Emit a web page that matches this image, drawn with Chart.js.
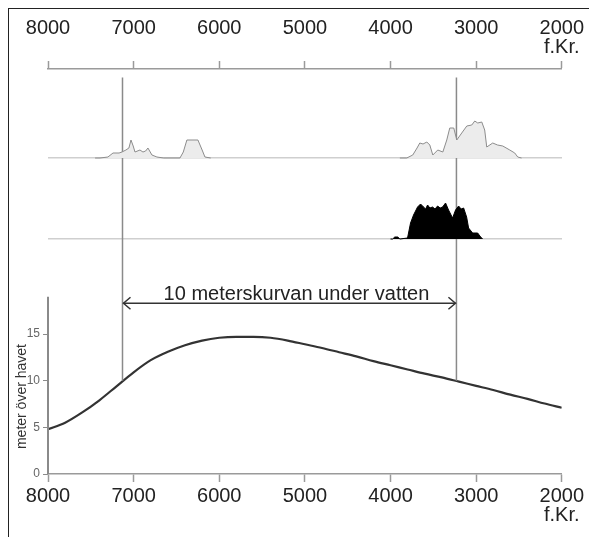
<!DOCTYPE html>
<html>
<head>
<meta charset="utf-8">
<script src="https://cdn.jsdelivr.net/npm/chart.js@4.4.1/dist/chart.umd.min.js"></script>
<style>
  body { margin: 0; background: #fff; }
  #wrap { position: relative; width: 589px; height: 537px; overflow: hidden; }
  #frame { position: absolute; left: 8px; top: 8px; width: 700px; height: 700px;
           border-left: 1.5px solid #222; border-top: 1.5px solid #222; pointer-events: none; }
</style>
</head>
<body>
<div id="wrap">
  <canvas id="c" width="589" height="537"></canvas>
  <div id="frame"></div>
</div>
<script>
// x axis (years before Christ)
var tickYears = [8000, 7000, 6000, 5000, 4000, 3000, 2000];
var unitLabel = "f.Kr.";

// sea level curve, meter over havet
var seaYears = [8000, 7800, 7600, 7400, 7200, 7000, 6800, 6600, 6400, 6200, 6000,
                5800, 5600, 5400, 5200, 5000, 4800, 4600, 4400, 4200, 4000,
                3800, 3600, 3400, 3200, 3000, 2800, 2600, 2400, 2200, 2000];
var seaLevel = [4.8, 5.5, 6.6, 7.9, 9.4, 10.9, 12.2, 13.1, 13.8, 14.3, 14.6,
                14.7, 14.7, 14.6, 14.3, 13.9, 13.5, 13.05, 12.6, 12.1, 11.65,
                11.2, 10.75, 10.35, 9.9, 9.45, 9.0, 8.5, 8.05, 7.55, 7.1];

// dating distribution, grey (null = gap between the two groups)
var greyYears = [7450, 7393, 7300, 7241, 7170, 7136, 7090, 7055, 7031, 7005, 6984, 6926, 6891, 6860, 6833, 6786, 6728, 6650,
                 6459, 6420, 6378, 6249, 6200, 6167, 6100, 5000,
                 3891, 3810, 3740, 3690, 3658, 3620, 3576, 3541, 3506, 3448, 3389, 3343, 3308, 3261, 3226, 3168,
                 3109, 3051, 3016, 2981, 2934, 2900, 2876, 2806, 2750, 2689, 2607, 2549, 2514, 2470];
var greyValues = [0, 0, 1, 5, 5, 6, 8, 10, 18, 12, 6, 8, 6, 7, 10, 3, 1, 0,
                  0, 6, 18, 18, 8, 1, 0, null,
                  0, 0, 3, 10, 15, 14, 16, 13, 3, 8, 6, 18, 30, 30, 18, 25,
                  32, 33, 37, 35, 36, 28, 11, 15, 13, 12, 8, 5, 1, 0];

// dating distribution, black
var blackYears = [4000, 3975, 3950, 3915, 3890, 3801, 3766, 3731, 3684, 3649, 3614, 3590, 3567, 3540, 3509, 3480, 3450, 3420,
                  3392, 3357, 3322, 3275, 3240, 3205, 3175, 3146, 3111, 3088, 3041, 2982, 2947, 2924];
var blackValues = [0, 0, 2, 2, 0, 1, 16, 24, 32, 35, 32, 30, 34, 31, 32, 30, 33, 31,
                   32, 36, 29, 21, 29, 33, 30, 31, 22, 11, 6, 6, 2, 0];

// 10 m curve marks
var markYears = [7130, 3230];
var markLevel = 10;
var markTop = 42.5;
var arrowLevel = 18.3;
var arrowText = "10 meterskurvan under vatten";
var yTitle = "meter över havet";
var yTicks = [0, 5, 10, 15];
var yAxisTop = 19;

var FONT = "'Liberation Sans', Arial, sans-serif";

function pts(xs, ys) {
  return xs.map(function(x, i) { return {x: x, y: ys[i]}; });
}
function yearLabel(v) {
  return v === 2000 ? [String(v), unitLabel] : [String(v), ""];
}

var decor = {
  id: "decor",
  afterDatasetsDraw: function(chart) {
    var ctx = chart.ctx, x = chart.scales.x, y = chart.scales.y;
    ctx.save();
    // y axis line only up to yAxisTop
    ctx.strokeStyle = "#8a8a8a";
    ctx.lineWidth = 2;
    ctx.beginPath();
    ctx.moveTo(x.left, y.getPixelForValue(0));
    ctx.lineTo(x.left, y.getPixelForValue(yAxisTop));
    ctx.stroke();
    // arrow heads
    var ay = y.getPixelForValue(arrowLevel);
    var x1 = x.getPixelForValue(markYears[0]), x2 = x.getPixelForValue(markYears[1]);
    ctx.strokeStyle = "#333";
    ctx.lineWidth = 1.5;
    ctx.beginPath();
    ctx.moveTo(x1 + 8, ay - 6); ctx.lineTo(x1 + 1, ay); ctx.lineTo(x1 + 8, ay + 6);
    ctx.moveTo(x2 - 8, ay - 6); ctx.lineTo(x2 - 1, ay); ctx.lineTo(x2 - 8, ay + 6);
    ctx.stroke();
    ctx.fillStyle = "#222";
    ctx.font = "20px " + FONT;
    ctx.textAlign = "center";
    ctx.textBaseline = "middle";
    ctx.fillText(arrowText, (x1 + x2) / 2 + 7, ay - 9);
    // y title
    ctx.font = "14px " + FONT;
    ctx.translate(22, y.getPixelForValue(8.3));
    ctx.rotate(-Math.PI / 2);
    ctx.fillStyle = "#333";
    ctx.fillText(yTitle, 0, 0);
    ctx.restore();
  }
};

var xCommon = {
  type: "linear", min: 2000, max: 8000, reverse: true,
  ticks: { stepSize: 1000, color: "#222", font: { family: FONT, size: 20, lineHeight: 0.95 },
           callback: function(v) { return yearLabel(v); }, maxRotation: 0, autoSkip: false },
  grid: { drawOnChartArea: false, tickLength: 8, tickColor: "#9a9a9a", tickWidth: 1.5 },
  border: { color: "#9a9a9a", width: 1.5 }
};

new Chart(document.getElementById("c"), {
  type: "line",
  data: {
    datasets: [
      { data: pts(greyYears, greyValues), yAxisID: "yGrey", borderColor: "#8c8c8c", borderWidth: 1,
        backgroundColor: "#ececec", fill: "origin", pointRadius: 0, tension: 0, spanGaps: false },
      { data: pts(blackYears, blackValues), yAxisID: "yBlack", borderColor: "#000", borderWidth: 1,
        backgroundColor: "#000", fill: "origin", pointRadius: 0, tension: 0 },
      { data: pts([markYears[0], markYears[0]], [markLevel, markTop]), yAxisID: "y", borderColor: "#8a8a8a",
        borderWidth: 1.5, pointRadius: 0 },
      { data: pts([markYears[1], markYears[1]], [markLevel, markTop]), yAxisID: "y", borderColor: "#8a8a8a",
        borderWidth: 1.5, pointRadius: 0 },
      { data: pts(markYears, [arrowLevel, arrowLevel]), yAxisID: "y", borderColor: "#333",
        borderWidth: 1.5, pointRadius: 0 },
      { data: pts(seaYears, seaLevel), yAxisID: "y", borderColor: "#333", borderWidth: 2.2,
        pointRadius: 0, tension: 0.4, cubicInterpolationMode: "monotone" }
    ]
  },
  options: {
    responsive: false,
    animation: false,
    layout: { padding: { left: 0, right: 27, top: 0, bottom: 0 } },
    plugins: { legend: { display: false }, tooltip: { enabled: false } },
    scales: {
      x: Object.assign({}, xCommon, { position: "bottom",
        ticks: Object.assign({}, xCommon.ticks, { padding: 5 }),
        afterFit: function(s) { s.height = 63; } }),
      xTop: Object.assign({}, xCommon, { position: "top",
        ticks: Object.assign({}, xCommon.ticks, { padding: 4 }),
        afterFit: function(s) { s.height = 69; } }),
      y: { type: "linear", position: "left", min: 0, max: 43.4,
        afterBuildTicks: function(s) { s.ticks = yTicks.map(function(v) { return {value: v}; }); },
        ticks: { color: "#666", font: { family: FONT, size: 12 }, padding: 3 },
        grid: { drawOnChartArea: false, tickLength: 5, tickColor: "#8a8a8a" },
        border: { display: false },
        afterFit: function(s) { s.width = 48; } },
      yGrey: { type: "linear", position: "right", min: -316, max: 89,
        afterBuildTicks: function(s) { s.ticks = [{value: 0}]; },
        ticks: { display: false }, border: { display: false },
        grid: { drawTicks: false, color: "#cfcfcf", lineWidth: 1.5 },
        afterFit: function(s) { s.width = 0; } },
      yBlack: { type: "linear", position: "right", min: -235, max: 170,
        afterBuildTicks: function(s) { s.ticks = [{value: 0}]; },
        ticks: { display: false }, border: { display: false },
        grid: { drawTicks: false, color: "#cfcfcf", lineWidth: 1.5 },
        afterFit: function(s) { s.width = 0; } }
    }
  },
  plugins: [decor]
});
</script>
</body>
</html>
